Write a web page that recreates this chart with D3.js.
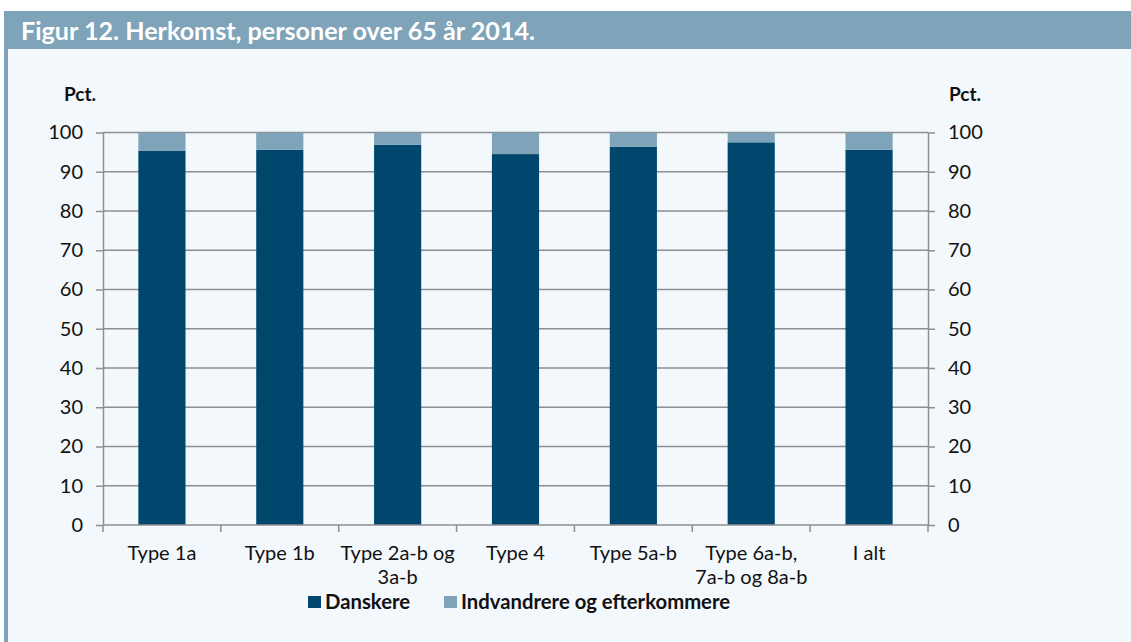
<!DOCTYPE html>
<html>
<head>
<meta charset="utf-8">
<script src="https://cdn.jsdelivr.net/npm/d3@7"></script>
<style>
  html, body { margin: 0; padding: 0; background: #ffffff; }
  svg { display: block; }
  text { font-family: Lato, "Open Sans", sans-serif; }
</style>
</head>
<body>
<svg id="chart" width="1131" height="642"></svg>
<script>
// ---- Data ----
const title = "Figur 12. Herkomst, personer over 65 år 2014.";
const categories = ["Type 1a", "Type 1b", "Type 2a-b og\n3a-b", "Type 4", "Type 5a-b", "Type 6a-b,\n7a-b og 8a-b", "I alt"];
const danskere = [95.4, 95.6, 96.9, 94.5, 96.4, 97.5, 95.6];
const indvandrere = [4.6, 4.4, 3.1, 5.5, 3.6, 2.5, 4.4];
const seriesNames = ["Danskere", "Indvandrere og efterkommere"];
const yTicks = [0, 10, 20, 30, 40, 50, 60, 70, 80, 90, 100];
const axisLabel = "Pct.";

(function () {
// ---- Styles ----
const colDark = "#00466d";
const colLight = "#7fa3b8";
const bg = "#f3f8fc";
const gridCol = "#8f8f8f";

const svg = d3.select("#chart");
const W = 1131, H = 642;

// panel
svg.append("rect").attr("x", 0).attr("y", 0).attr("width", W).attr("height", H).attr("fill", "#ffffff");
svg.append("rect").attr("x", 4).attr("y", 49).attr("width", W - 4).attr("height", H - 49).attr("fill", bg);
svg.append("rect").attr("x", 4).attr("y", 49).attr("width", 4).attr("height", H - 49).attr("fill", colLight);
svg.append("rect").attr("x", 4).attr("y", 11).attr("width", W - 4).attr("height", 38).attr("fill", colLight);
svg.append("text").attr("x", 21).attr("y", 40)
  .attr("fill", "#ffffff").attr("font-weight", "bold").attr("font-size", 25.5)
  .attr("textLength", 514).attr("lengthAdjust", "spacingAndGlyphs")
  .text(title);

// scales
const pLeft = 103, pRight = 928, pTop = 132.5, pBottom = 525;
const x = d3.scaleBand().domain(categories).range([pLeft, pRight]).paddingInner(0.6).paddingOuter(0.3);
const y = d3.scaleLinear().domain([0, 100]).range([pBottom, pTop]);

// gridlines
svg.append("g").selectAll("line").data(yTicks.filter(d => d > 0)).join("line")
  .attr("x1", pLeft).attr("x2", pRight)
  .attr("y1", d => y(d)).attr("y2", d => y(d))
  .attr("stroke", gridCol).attr("stroke-width", 1.5);

// bars
const stackData = categories.map((c, i) => ({ cat: c, d: danskere[i], v: indvandrere[i] }));
const stack = d3.stack().keys(["d", "v"])(stackData);
const colors = [colDark, colLight];
svg.append("g").selectAll("g").data(stack).join("g")
  .attr("fill", (s, i) => colors[i])
  .selectAll("rect").data(s => s).join("rect")
  .attr("x", d => x(d.data.cat))
  .attr("width", x.bandwidth())
  .attr("y", d => y(d[1]))
  .attr("height", d => y(d[0]) - y(d[1]));

// axes
const yAxisL = d3.axisLeft(y).tickValues(yTicks).tickSize(7).tickPadding(13).tickSizeOuter(0);
const yAxisR = d3.axisRight(y).tickValues(yTicks).tickSize(7).tickPadding(13).tickSizeOuter(0);
function styleAxis(g) {
  g.select(".domain").attr("stroke", gridCol).attr("stroke-width", 1.5);
  g.selectAll(".tick line").attr("stroke", gridCol).attr("stroke-width", 1.5);
  g.selectAll(".tick text").attr("font-size", 20).attr("fill", "#111").attr("font-family", "Lato, 'Open Sans', sans-serif");
}
svg.append("g").attr("transform", `translate(${pLeft},0)`).call(yAxisL).call(styleAxis);
svg.append("g").attr("transform", `translate(${pRight},0)`).call(yAxisR).call(styleAxis);

// x axis: line + boundary ticks
const step = x.step();
const bounds = d3.range(categories.length + 1).map(i => pLeft + i * step);
svg.append("line").attr("x1", pLeft).attr("x2", pRight).attr("y1", pBottom).attr("y2", pBottom)
  .attr("stroke", gridCol).attr("stroke-width", 1.5);
svg.append("g").selectAll("line").data(bounds).join("line")
  .attr("x1", d => d).attr("x2", d => d).attr("y1", pBottom).attr("y2", pBottom + 7)
  .attr("stroke", gridCol).attr("stroke-width", 1.5);

// category labels
const labG = svg.append("g").attr("font-size", 20).attr("fill", "#111").attr("text-anchor", "middle");
categories.forEach(c => {
  const cx = x(c) + x.bandwidth() / 2;
  const t = labG.append("text").attr("x", cx).attr("y", 560);
  c.split("\n").forEach((line, j) => {
    t.append("tspan").attr("x", cx).attr("dy", j === 0 ? 0 : 23.5).text(line);
  });
});

// Pct. labels
svg.append("text").attr("x", 80).attr("y", 101).attr("text-anchor", "middle")
  .attr("font-weight", "bold").attr("font-size", 19).attr("fill", "#111").text(axisLabel);
svg.append("text").attr("x", 949).attr("y", 101).attr("text-anchor", "start")
  .attr("font-weight", "bold").attr("font-size", 19).attr("fill", "#111").text(axisLabel);

// legend
const legendX = [308, 444];
const leg = svg.append("g");
seriesNames.forEach((n, i) => {
  leg.append("rect").attr("x", legendX[i]).attr("y", 596).attr("width", 13).attr("height", 12).attr("fill", colors[i]);
  leg.append("text").attr("x", legendX[i] + 17).attr("y", 609).attr("font-weight", "bold")
    .attr("font-size", 20.3).attr("fill", "#111").text(n);
});
})();
</script>
</body>
</html>
